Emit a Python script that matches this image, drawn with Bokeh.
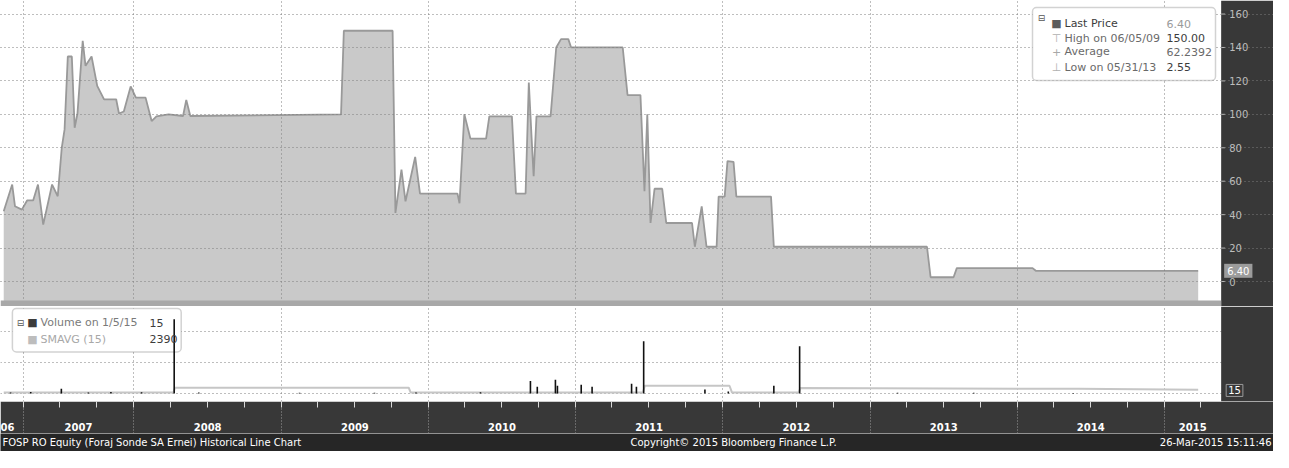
import pandas as pd
from bokeh.plotting import figure
from bokeh.layouts import column
from bokeh.models import ColumnDataSource, Range1d, FixedTicker, BoxAnnotation, Label, DatetimeAxis
from bokeh.embed import file_html
from bokeh.resources import INLINE

# ---------------- data ----------------
price_dates = [
    "2007-02-12", "2007-03-05", "2007-03-12", "2007-03-29", "2007-04-11", "2007-04-26",
    "2007-05-08", "2007-05-21", "2007-06-12", "2007-06-26", "2007-07-06", "2007-07-13",
    "2007-07-21", "2007-07-31", "2007-08-07", "2007-08-14", "2007-08-27", "2007-09-03",
    "2007-09-18", "2007-10-02", "2007-10-19", "2007-11-18", "2007-11-25", "2007-12-07",
    "2007-12-24", "2008-01-06", "2008-01-30", "2008-02-14", "2008-02-26", "2008-03-27",
    "2008-05-02", "2008-05-10", "2008-05-20", "2009-05-29", "2009-06-05", "2009-10-04",
    "2009-10-11", "2009-10-26", "2009-11-05", "2009-11-29", "2009-12-11", "2010-03-14",
    "2010-03-19", "2010-03-31", "2010-04-15", "2010-05-24", "2010-06-01", "2010-07-27",
    "2010-08-06", "2010-08-30", "2010-09-07", "2010-09-14", "2010-09-19", "2010-09-26",
    "2010-10-31", "2010-11-14", "2010-11-26", "2010-12-14", "2010-12-21", "2011-04-28",
    "2011-05-10", "2011-06-11", "2011-06-21", "2011-06-28", "2011-07-06", "2011-07-16",
    "2011-08-04", "2011-08-14", "2011-10-17", "2011-10-24", "2011-11-10", "2011-11-22",
    "2011-12-17", "2011-12-22", "2012-01-06", "2012-01-13", "2012-01-28", "2012-02-04",
    "2012-04-30", "2012-05-07", "2013-05-22", "2013-05-31", "2013-07-27", "2013-08-04",
    "2014-02-08", "2014-02-16", "2015-03-26",
]
price_values = [
    42, 58, 45, 43, 48.5, 48.5,
    58, 34, 58, 51, 80, 91,
    134.6, 134.6, 92, 100.5, 144, 129,
    134.6, 117, 109, 109, 100.5, 101.7,
    116.7, 110, 110, 96, 98.8, 100,
    99, 108.6, 99, 100, 150, 150,
    41, 67, 48, 74.5, 52.6, 52.6,
    46.8, 100, 85.5, 85.5, 98.8, 98.8,
    52.6, 52.6, 119, 85.5, 63, 98.8,
    98.8, 140, 145, 145, 140, 140,
    111.5, 111.5, 54, 100, 35, 55.5,
    55.5, 35, 35, 20.8, 45, 20.8,
    20.8, 50.8, 50.8, 72, 71.6, 50.8,
    50.8, 20.8, 20.8, 2.55, 2.55, 8.0,
    8.0, 6.4, 6.4,
]

volume_dates = [
    "2007-03-01", "2007-04-20", "2007-07-05", "2007-09-10", "2007-11-05", "2008-01-20",
    "2008-04-10", "2008-06-10", "2009-02-15", "2009-08-20", "2009-12-01", "2010-05-10",
    "2010-09-11", "2010-09-28", "2010-11-12", "2010-11-17", "2011-01-15", "2011-02-11",
    "2011-05-20", "2011-06-01", "2011-06-19", "2011-11-18", "2012-01-15", "2012-05-07",
    "2012-07-10", "2013-03-10", "2013-09-15", "2014-05-20", "2015-01-05",
]
volume_values = [
    600, 900, 3100, 700, 1000, 800,
    48000, 600, 500, 400, 700, 800,
    8000, 4400, 8800, 5000, 5600, 4400,
    6300, 4400, 33800, 2500, 1300, 5000,
    30600, 500, 400, 300, 15,
]

smavg_dates = [
    "2007-02-12", "2008-04-08", "2008-04-12", "2009-11-13", "2009-11-18", "2011-06-17",
    "2011-06-22", "2012-01-18", "2012-01-24", "2012-07-08", "2012-07-12", "2014-06-01",
    "2015-03-26",
]
smavg_values = [
    600, 600, 3700, 3700, 600, 600,
    5000, 5000, 700, 700, 3600, 3000,
    2390,
]

# "06" is the clipped 2006 label at the left edge of the original
year_labels = ["06", "2007", "2008", "2009", "2010", "2011", "2012", "2013", "2014", "2015"]
year_bounds = ["2007-04-01", "2008-01-01", "2009-01-01", "2010-01-01", "2011-01-01",
               "2012-01-01", "2013-01-01", "2014-01-01", "2015-01-01"]
price_ticks = [0, 20, 40, 60, 80, 100, 120, 140, 160]
volume_grid_ticks = [0, 20000, 40000]

legend_price = [
    ("Last Price", "6.40"),
    ("High on 06/05/09", "150.00"),
    ("Average", "62.2392"),
    ("Low on 05/31/13", "2.55"),
]
legend_volume = [("Volume on 1/5/15", "15"), ("SMAVG (15)", "2390")]
footer_texts = [
    "FOSP RO Equity (Foraj Sonde SA Ernei) Historical Line Chart",
    "Copyright© 2015 Bloomberg Finance L.P.",
    "26-Mar-2015 15:11:46",
]

# ---------------- layout constants ----------------
W = 1273
PRICE_H = 306
VOL_FRAME_H = 95
VOL_BOTTOM = 32
VOL_H = VOL_FRAME_H + VOL_BOTTOM
FOOT_H = 18
BAND = "#383838"
GRID = "#7c7c7c"
FONT = "DejaVu Sans"

x_start = pd.Timestamp("2007-02-04")
x_end = pd.Timestamp("2015-05-22")          # right edge of the plotting area
P_LO, P_HI = -14.95, 168.1


def ms(ts):
    return int(pd.Timestamp(ts).value // 10**6)


X0, X1 = ms(x_start), ms(x_end)
XFULL = X0 + int((X1 - X0) * 1289 / 1236)   # canvas also covers the dark axis band
MS_PX = (XFULL - X0) / W

xr = Range1d(start=X0, end=XFULL)

# year label positions: centre of the visible part of each year segment
bounds = [X0] + [ms(b) for b in year_bounds] + [X1]
label_ticks, overrides = [], {}
for i, lab in enumerate(year_labels):
    lo, hi = bounds[i], bounds[i + 1]
    t = int(lo + 5 * MS_PX) if i == 0 else (lo + hi) // 2
    label_ticks.append(t)
    overrides[t] = lab
quarter_ticks = [ms(d) for d in pd.date_range("2007-04-01", "2015-04-01", freq="QS")]
grid_ticks = [ms(b) for b in year_bounds]

psrc = ColumnDataSource(dict(date=pd.to_datetime(price_dates), price=price_values))
vsrc = ColumnDataSource(dict(date=pd.to_datetime(volume_dates), vol=volume_values))
ssrc = ColumnDataSource(dict(date=pd.to_datetime(smavg_dates), sm=smavg_values))


def base_fig(h, yr, bottom=0, x_axis=None):
    f = figure(width=W, height=h, x_axis_type="datetime", x_axis_location=x_axis,
               y_axis_location=None, x_range=xr, y_range=yr,
               output_backend="svg", toolbar_location=None,
               min_border_left=0, min_border_top=0, min_border_bottom=bottom,
               min_border_right=0, border_fill_color=BAND,
               background_fill_color="white", outline_line_color=None)
    return f


def style_grid(f, yticks):
    f.xgrid.ticker = FixedTicker(ticks=grid_ticks)
    f.ygrid.ticker = FixedTicker(ticks=yticks)
    f.ygrid.bounds = (X0, X1)
    for g in (f.xgrid, f.ygrid):
        g.grid_line_color = GRID
        g.grid_line_dash = "1 3"
        g.grid_line_width = 1


# ---------------- price panel ----------------
p = base_fig(PRICE_H, Range1d(P_LO, P_HI))
style_grid(p, price_ticks)
for g in (p.xgrid, p.ygrid):
    g.level = "guide"

p.varea(x="date", y1=P_LO, y2="price", source=psrc, fill_color="#c9c9c9")
p.line(x="date", y="price", source=psrc, line_color="#999999", line_width=1.8)

# dark axis band on the right
p.add_layout(BoxAnnotation(left=X1, fill_color=BAND, fill_alpha=1, line_color=None,
                           level="underlay"))
# separator strip between the panels
p.add_layout(BoxAnnotation(top=-11.4, right=X1, fill_color="#a8a8a8", fill_alpha=1,
                           line_color=None))

# right axis: ticks and labels in the dark band
p.segment(x0=[X1] * len(price_ticks), y0=price_ticks,
          x1=[X1 + 4 * MS_PX] * len(price_ticks), y1=price_ticks,
          line_color="#b5b5b5", line_width=1)
for t in price_ticks:
    p.add_layout(Label(x=X1, y=t, x_offset=8, text=str(t), text_font=FONT,
                       text_font_size="10px", text_color="#bdbdbd",
                       text_baseline="middle"))

# last value marker
p.add_layout(Label(x=X1, y=price_values[-1], x_offset=3, text="6.40",
                   text_font=FONT, text_font_size="10px", text_color="white",
                   text_baseline="middle", background_fill_color="#9c9c9c",
                   background_fill_alpha=1, padding=3))

# price legend box
p.add_layout(BoxAnnotation(left=1032, right=1215, top=299, bottom=226,
                           left_units="screen", right_units="screen",
                           top_units="screen", bottom_units="screen",
                           fill_color="white", fill_alpha=1, line_color="#6a6a6a",
                           line_width=1.5, border_radius=4))
rows_y = [282.8, 268.3, 254.8, 239.3]
icons = [("■", "#5c5c5c"), ("⊤", "#b0b0b0"), ("+", "#a8a8a8"), ("⊥", "#b0b0b0")]
label_cols = ["#3c3c3c", "#6a6a6a", "#6a6a6a", "#6a6a6a"]
value_cols = ["#9a9a9a", "#3c3c3c", "#6a6a6a", "#3c3c3c"]
p.add_layout(Label(x=1041, y=289, x_units="screen", y_units="screen", text="⊟",
                   text_font=FONT, text_font_size="9px", text_color="#555555",
                   text_align="center", text_baseline="middle"))
for (lab, val), y, (ic, icc), lc, vc in zip(legend_price, rows_y, icons, label_cols, value_cols):
    p.add_layout(Label(x=1056, y=y, x_units="screen", y_units="screen", text=ic,
                       text_font=FONT, text_font_size="11px", text_color=icc,
                       text_align="center", text_baseline="middle"))
    p.add_layout(Label(x=1064, y=y, x_units="screen", y_units="screen", text=lab,
                       text_font=FONT, text_font_size="11px", text_color=lc,
                       text_baseline="middle"))
    p.add_layout(Label(x=1166, y=y, x_units="screen", y_units="screen", text=val,
                       text_font=FONT, text_font_size="11px", text_color=vc,
                       text_baseline="middle"))

# ---------------- volume panel ----------------
v = base_fig(VOL_H, Range1d(-5200, 56300), bottom=VOL_BOTTOM, x_axis="below")
style_grid(v, volume_grid_ticks)

v.add_layout(BoxAnnotation(left=X1, fill_color=BAND, fill_alpha=1, line_color=None,
                           level="underlay"))
v.add_layout(BoxAnnotation(left=11.9, right=180.7, top=93.1, bottom=49.6,
                           left_units="screen", right_units="screen",
                           top_units="screen", bottom_units="screen",
                           fill_color="white", fill_alpha=1, line_color="#6a6a6a",
                           line_width=1.5, border_radius=4, level="underlay"))

v.line(x="date", y="sm", source=ssrc, line_color="#c6c6c6", line_width=2)
v.segment(x0="date", y0=0, x1="date", y1="vol", source=vsrc, line_color="#111111",
          line_width=1.6)

xa = v.xaxis[0]
xa.ticker = FixedTicker(ticks=label_ticks, minor_ticks=quarter_ticks)
xa.major_label_overrides = overrides
xa.axis_line_color = None
xa.major_tick_out = 0
xa.major_tick_in = 0
xa.major_tick_line_color = None
xa.minor_tick_out = 6
xa.minor_tick_in = 0
xa.minor_tick_line_color = "#d8d8d8"
xa.major_label_text_color = "white"
xa.major_label_text_font = FONT
xa.major_label_text_font_size = "10px"
xa.major_label_text_font_style = "bold"
xa.major_label_standoff = 15

# dotted year separators running through the axis band
sep = DatetimeAxis(ticker=FixedTicker(ticks=grid_ticks), axis_line_color=None,
                   major_tick_in=26, major_tick_out=0, major_tick_line_color="#9a9a9a",
                   major_tick_line_dash="1 2", minor_tick_line_color=None,
                   major_label_text_font_size="0px", major_label_standoff=0,
                   major_label_overrides={t: "" for t in grid_ticks})
v.add_layout(sep, "below")

vrows = [78.6, 62.2]
vicons = ["#3c3c3c", "#bdbdbd"]
vlabel_cols = ["#7a7a7a", "#a8a8a8"]
v.add_layout(Label(x=20, y=79, x_units="screen", y_units="screen", text="⊟",
                   text_font=FONT, text_font_size="9px", text_color="#555555",
                   text_align="center", text_baseline="middle"))
for (lab, val), y, icc, lc in zip(legend_volume, vrows, vicons, vlabel_cols):
    v.add_layout(Label(x=32, y=y, x_units="screen", y_units="screen", text="■",
                       text_font=FONT, text_font_size="11px", text_color=icc,
                       text_align="center", text_baseline="middle"))
    v.add_layout(Label(x=40, y=y, x_units="screen", y_units="screen", text=lab,
                       text_font=FONT, text_font_size="11px", text_color=lc,
                       text_baseline="middle"))
    v.add_layout(Label(x=149, y=y, x_units="screen", y_units="screen", text=val,
                       text_font=FONT, text_font_size="11px", text_color="#3c3c3c",
                       text_baseline="middle"))

v.add_layout(Label(x=X1, y=volume_values[-1], x_offset=5, y_offset=3,
                   text="15", text_font=FONT, text_font_size="10px", text_color="white",
                   text_baseline="middle", border_line_color="#9a9a9a",
                   background_fill_color=BAND, background_fill_alpha=1, padding=2))

# ---------------- footer line ----------------
fr = figure(width=W, height=FOOT_H, x_range=Range1d(0, W), y_range=Range1d(0, FOOT_H),
            x_axis_location=None, y_axis_location=None,
            output_backend="svg", toolbar_location=None,
            min_border_left=0, min_border_top=0, min_border_bottom=0, min_border_right=0,
            border_fill_color="#262626", background_fill_color="#262626",
            outline_line_color=None)
fr.grid.visible = False
for x, al, txt in zip([2, 630, W - 2], ["left", "left", "right"], footer_texts):
    fr.add_layout(Label(x=x, y=FOOT_H / 2, x_units="screen", y_units="screen", text=txt,
                        text_font=FONT, text_font_size="10px", text_color="white",
                        text_align=al, text_baseline="middle"))

layout = column(p, v, fr, spacing=0)
open("out.html", "w").write(file_html(layout, INLINE))
